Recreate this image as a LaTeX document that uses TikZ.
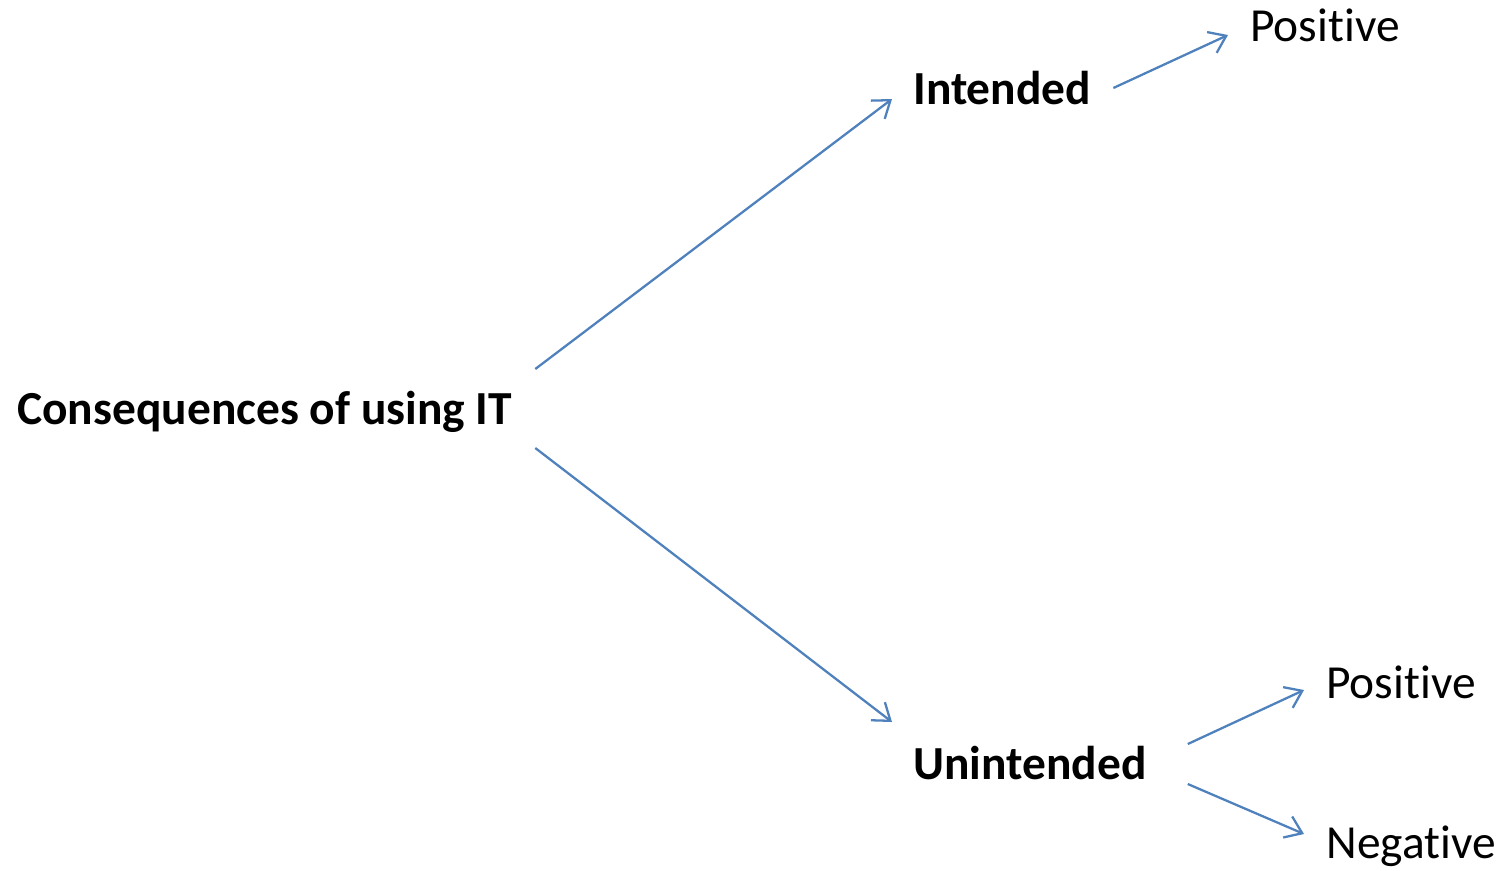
\documentclass[tikz,border=0pt]{standalone}
\usepackage{fontspec}
\setmainfont[Ligatures=NoCommon]{Carlito}
\usetikzlibrary{arrows.meta,calc}

\begin{document}
\begin{tikzpicture}[
    x=0.02cm, y=-0.02cm,
    label/.style={inner sep=0pt, anchor=base west, font=\fontsize{27}{32}\selectfont},
    strong/.style={label, font=\fontsize{27}{32}\selectfont\bfseries},
    arrow/.style={-{Straight Barb[length=9pt,width=13pt]}, line width=1.3pt, draw=linkblue}
]
\definecolor{linkblue}{RGB}{79,129,189}
\useasboundingbox (0,0) rectangle (1503,870);

% Root
\node[strong] (root) at (17,424) {Consequences of using IT};

% Two kinds
\node[strong] (intended) at (913,104) {Intended};
\node[strong] (unintended) at (913,779) {Unintended};

% Outcomes
\node[label] (intpos) at (1250,41) {Positive};
\node[label] (unpos) at (1326,698) {Positive};
\node[label] (unneg) at (1326,858) {Negative};

% Arrows
\draw[arrow] ($(root.base east)+(23,-55)$) -- ($(intended.base west)+(-21,-5)$);
\draw[arrow] ($(root.base east)+(23,24)$) -- ($(unintended.base west)+(-21,-57)$);
\draw[arrow] ($(intended.base east)+(22,-16)$) -- ($(intpos.base west)+(-22,-6)$);
\draw[arrow] ($(unintended.base east)+(41,-35)$) -- ($(unpos.base west)+(-22,-8)$);
\draw[arrow] ($(unintended.base east)+(41,5)$) -- ($(unneg.base west)+(-22,-24)$);

\end{tikzpicture}
\end{document}
